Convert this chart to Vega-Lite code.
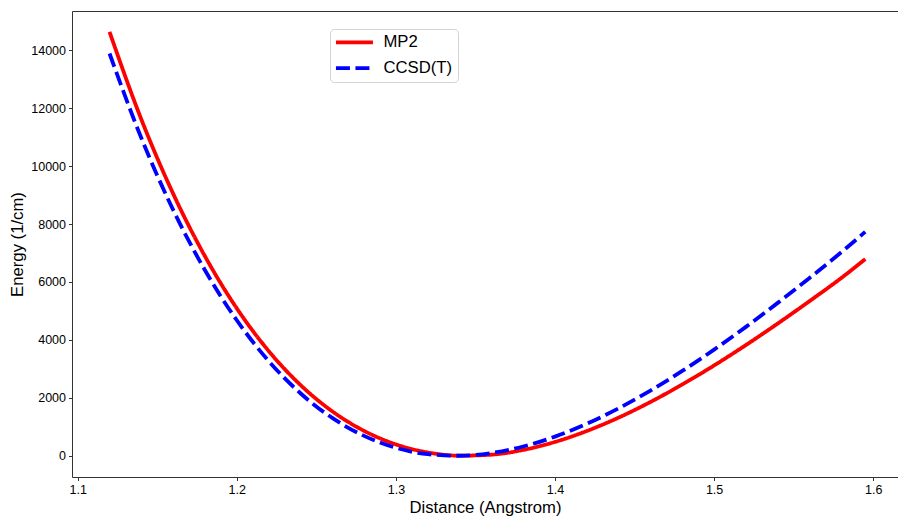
{
  "$schema": "https://vega.github.io/schema/vega-lite/v6.json",
  "width": 826,
  "height": 466,
  "autosize": {"type": "none"},
  "padding": {"left": 72, "top": 11, "right": 0, "bottom": 40},
  "background": "white",
  "config": {
    "view": {"stroke": null},
    "font": "Liberation Sans",
    "axis": {
      "domainColor": "#333333",
      "domainWidth": 1,
      "tickColor": "#333333",
      "tickSize": 3.5,
      "tickWidth": 1,
      "labelFont": "Liberation Sans",
      "labelFontSize": 12.5,
      "labelColor": "#000000",
      "labelPadding": 3,
      "titleFont": "Liberation Sans",
      "titleFontSize": 16.7,
      "titleFontWeight": "normal",
      "titleColor": "#000000",
      "grid": false
    },
    "legend": {
      "title": null,
      "orient": "none",
      "legendX": 258,
      "legendY": 18,
      "symbolType": "M-1.6,0H6.4",
      "symbolSize": 85.6,
      "symbolStrokeWidth": 3.8,
      "labelFontSize": 16.7,
      "labelFont": "Liberation Sans",
      "labelColor": "#000000",
      "labelOffset": 31.75,
      "rowPadding": 7.7,
      "padding": 5,
      "strokeColor": "#d3d3d3",
      "cornerRadius": 4,
      "fillColor": "white"
    }
  },
  "data": {
    "values": [
      {"distance": 1.12, "energy": 14630, "method": "MP2"},
      {"distance": 1.14, "energy": 11611, "method": "MP2"},
      {"distance": 1.16, "energy": 9046, "method": "MP2"},
      {"distance": 1.18, "energy": 6887, "method": "MP2"},
      {"distance": 1.20, "energy": 5089, "method": "MP2"},
      {"distance": 1.22, "energy": 3620, "method": "MP2"},
      {"distance": 1.24, "energy": 2447, "method": "MP2"},
      {"distance": 1.26, "energy": 1536, "method": "MP2"},
      {"distance": 1.28, "energy": 861, "method": "MP2"},
      {"distance": 1.30, "energy": 395, "method": "MP2"},
      {"distance": 1.32, "energy": 117, "method": "MP2"},
      {"distance": 1.34, "energy": 5, "method": "MP2"},
      {"distance": 1.36, "energy": 39, "method": "MP2"},
      {"distance": 1.38, "energy": 203, "method": "MP2"},
      {"distance": 1.40, "energy": 480, "method": "MP2"},
      {"distance": 1.42, "energy": 857, "method": "MP2"},
      {"distance": 1.44, "energy": 1320, "method": "MP2"},
      {"distance": 1.46, "energy": 1859, "method": "MP2"},
      {"distance": 1.48, "energy": 2462, "method": "MP2"},
      {"distance": 1.50, "energy": 3119, "method": "MP2"},
      {"distance": 1.52, "energy": 3823, "method": "MP2"},
      {"distance": 1.54, "energy": 4566, "method": "MP2"},
      {"distance": 1.56, "energy": 5340, "method": "MP2"},
      {"distance": 1.58, "energy": 6140, "method": "MP2"},
      {"distance": 1.595, "energy": 6790, "method": "MP2"},
      {"distance": 1.12, "energy": 13885, "method": "CCSD(T)"},
      {"distance": 1.14, "energy": 10966, "method": "CCSD(T)"},
      {"distance": 1.16, "energy": 8487, "method": "CCSD(T)"},
      {"distance": 1.18, "energy": 6404, "method": "CCSD(T)"},
      {"distance": 1.20, "energy": 4678, "method": "CCSD(T)"},
      {"distance": 1.22, "energy": 3274, "method": "CCSD(T)"},
      {"distance": 1.24, "energy": 2159, "method": "CCSD(T)"},
      {"distance": 1.26, "energy": 1307, "method": "CCSD(T)"},
      {"distance": 1.28, "energy": 688, "method": "CCSD(T)"},
      {"distance": 1.30, "energy": 278, "method": "CCSD(T)"},
      {"distance": 1.32, "energy": 56, "method": "CCSD(T)"},
      {"distance": 1.34, "energy": 2, "method": "CCSD(T)"},
      {"distance": 1.36, "energy": 95, "method": "CCSD(T)"},
      {"distance": 1.38, "energy": 321, "method": "CCSD(T)"},
      {"distance": 1.40, "energy": 663, "method": "CCSD(T)"},
      {"distance": 1.42, "energy": 1107, "method": "CCSD(T)"},
      {"distance": 1.44, "energy": 1640, "method": "CCSD(T)"},
      {"distance": 1.46, "energy": 2251, "method": "CCSD(T)"},
      {"distance": 1.48, "energy": 2930, "method": "CCSD(T)"},
      {"distance": 1.50, "energy": 3666, "method": "CCSD(T)"},
      {"distance": 1.52, "energy": 4451, "method": "CCSD(T)"},
      {"distance": 1.54, "energy": 5278, "method": "CCSD(T)"},
      {"distance": 1.56, "energy": 6139, "method": "CCSD(T)"},
      {"distance": 1.58, "energy": 7028, "method": "CCSD(T)"},
      {"distance": 1.595, "energy": 7730, "method": "CCSD(T)"}
    ]
  },
  "resolve": {"axis": {"x": "independent"}},
  "layer": [
    {
      "mark": {"type": "line", "strokeWidth": 3.8, "interpolate": "monotone", "strokeCap": "butt"},
      "encoding": {
        "x": {
          "field": "distance",
          "type": "quantitative",
          "scale": {"domain": [1.09642, 1.61558], "nice": false, "zero": false},
          "axis": {
            "orient": "bottom",
            "values": [1.1, 1.2, 1.3, 1.4, 1.5, 1.6],
            "format": ".1f",
            "title": "Distance (Angstrom)",
            "titlePadding": 3
          }
        },
        "y": {
          "field": "energy",
          "type": "quantitative",
          "scale": {"domain": [-731, 15351], "nice": false, "zero": false},
          "axis": {
            "values": [0, 2000, 4000, 6000, 8000, 10000, 12000, 14000],
            "format": "d",
            "title": "Energy (1/cm)",
            "titlePadding": 4
          }
        },
        "color": {
          "field": "method",
          "type": "nominal",
          "scale": {"domain": ["MP2", "CCSD(T)"], "range": ["#ff0000", "#0000ff"]}
        },
        "strokeDash": {
          "field": "method",
          "type": "nominal",
          "scale": {"domain": ["MP2", "CCSD(T)"], "range": [[1, 0], [14, 5.5]]}
        }
      }
    },
    {
      "mark": {"type": "line", "opacity": 0},
      "encoding": {
        "x": {
          "field": "distance",
          "type": "quantitative",
          "axis": {"orient": "top", "labels": false, "ticks": false, "title": null}
        },
        "y": {"field": "energy", "type": "quantitative"},
        "detail": {"field": "method"}
      }
    }
  ]
}
